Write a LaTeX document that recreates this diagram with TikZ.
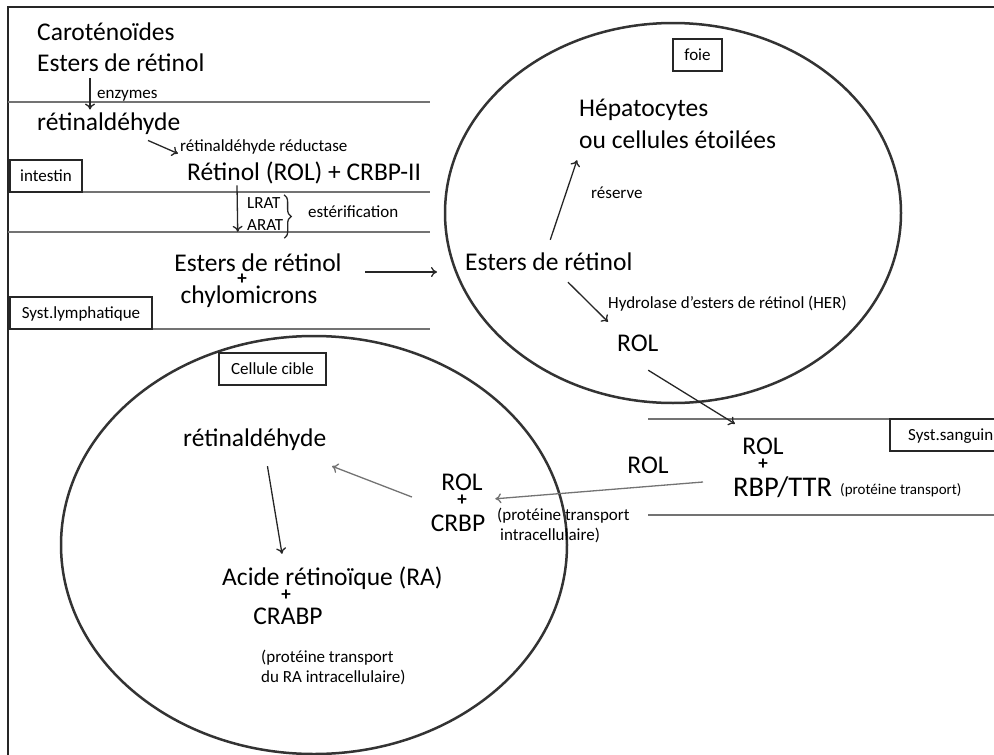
\documentclass[tikz,border=0pt]{standalone}
\usepackage{fontspec}
\setmainfont{Carlito}
\usetikzlibrary{arrows.meta,decorations.pathreplacing}

\tikzset{
  >={To[length=6pt, width=10pt]},
  bigtext/.style={font=\fontsize{25.5}{30}\selectfont, inner sep=0pt, text height=16.5pt, text depth=0pt},
  smalltext/.style={font=\fontsize{17}{20}\selectfont, inner sep=0pt, text height=11pt, text depth=0pt},
  plussign/.style={font=\bfseries\fontsize{19}{20}\selectfont, inner sep=0pt, text height=9pt, text depth=0pt},
  tagbox/.style={smalltext, draw=black!85, line width=1.5pt, minimum height=32pt},
  arr/.style={->, line width=1.3pt, black!85},
  greyarr/.style={->, line width=1.3pt, black!55},
  sep/.style={line width=1.5pt, black!55},
  organ/.style={line width=2.5pt, black!80}
}

\begin{document}
\begin{tikzpicture}[x=1pt, y=-1pt]
	\useasboundingbox (0,0) rectangle (994,755);
	\draw[line width=2.5pt, black!85] (8,755) -- (8,7) -- (994,7);

	% intestin
	\draw[sep] (8,102) -- (430,102);
	\draw[sep] (82,192) -- (430,192);
	\draw[sep] (8,232) -- (430,232);
	\draw[sep] (152,329) -- (430,329);
	\node[tagbox, minimum width=72pt](intestinBox) at (46,176){intestin};
	\node[tagbox, minimum width=142pt](lymphBox) at (81,313){Syst.lymphatique};

	\node[bigtext, anchor=west](carot) at (37,32){Caroténoïdes};
	\node[bigtext, anchor=west](estersA) at (37,63){Esters de rétinol};
	\node[smalltext, anchor=west](enzymesLbl) at (97,93){enzymes};
	\node[bigtext, anchor=west](retA) at (37,122){rétinaldéhyde};
	\node[smalltext, anchor=west](reductaseLbl) at (180,146){rétinaldéhyde réductase};
	\node[bigtext, anchor=west](rolA) at (187,172){Rétinol (ROL) + CRBP-II};
	\node[smalltext, anchor=west](lratLbl) at (247,203){LRAT};
	\node[smalltext, anchor=west](aratLbl) at (247,225){ARAT};
	\node[smalltext, anchor=west](esterifLbl) at (308,212){estérification};
	\node[bigtext](estersB) at (258,263){Esters de rétinol};
	\node[plussign](plusB) at (242,280){+};
	\node[bigtext](chylo) at (249,295){chylomicrons};

	\draw[arr] ([xshift=53pt,yshift=-7pt]estersA.south west) -- ([xshift=53pt,yshift=4pt]retA.north west);
	\draw[arr] ([xshift=111pt,yshift=-10pt]retA.south west) -- ([xshift=-9pt,yshift=10pt]rolA.north west);
	\draw[arr] ([xshift=50pt,yshift=-5pt]rolA.south west) -- ([xshift=63.5pt,yshift=22.75pt]estersB.north west);
	\draw[line width=1.3pt, black!85, decorate, decoration={brace, amplitude=7pt}] ([xshift=3.5pt,yshift=2.5pt]lratLbl.north east) -- ([xshift=1pt,yshift=-7.5pt]aratLbl.south east);

	% foie
	\draw[organ] (673,213) ellipse [x radius=228pt, y radius=190pt];
	\node[tagbox, minimum width=49pt](foieBox) at (697.5,55){foie};
	\node[bigtext, anchor=west](hepato1) at (579,108){Hépatocytes};
	\node[bigtext, anchor=west](hepato2) at (579,140){ou cellules étoilées};
	\node[smalltext, anchor=west](reserveLbl) at (591,193){réserve};
	\node[bigtext, anchor=west](estersC) at (465,262){Esters de rétinol};
	\node[smalltext, anchor=west](herLbl) at (608,303){Hydrolase d’esters de rétinol (HER)};
	\node[bigtext, anchor=west](rolC) at (617,343){ROL};

	\draw[arr] ([xshift=23.5pt,yshift=-9pt]estersB.east) -- ([xshift=-28pt,yshift=-10pt]estersC.west);
	\draw[arr] ([xshift=1.5pt,yshift=13.75pt]estersC.north) -- ([xshift=-2pt,yshift=-11.75pt]hepato2.south west);
	\draw[arr] ([xshift=103pt,yshift=-11.75pt]estersC.south west) -- ([xshift=-9pt,yshift=12.75pt]rolC.north west);

	% sang
	\draw[sep] (648,419) -- (994,419);
	\draw[sep] (648,515) -- (994,515);
	\node[tagbox, minimum width=122pt, anchor=west](sangBox) at (889,435){Syst.sanguin};
	\node[bigtext](rolD) at (763,446){ROL};
	\node[plussign](plusD) at (763,465){+};
	\node[bigtext, font=\fontsize{28.5}{32}\selectfont, text height=18.5pt, anchor=west](rbp) at (733,487){RBP/TTR};
	\node[smalltext, font=\fontsize{15}{18}\selectfont, anchor=west](protD) at (840,489){(protéine transport)};
	\node[bigtext](rolLbl) at (648,465){ROL};

	\draw[arr] ([xshift=-10.4pt,yshift=-18.75pt]rolC.south east) -- ([xshift=-7.3pt,yshift=13.75pt]rolD.north west);

	% cellule cible
	\draw[organ] (314,545) ellipse [x radius=253pt, y radius=209pt];
	\node[tagbox, minimum width=107pt](cibleBox) at (272.5,369){Cellule cible};
	\node[bigtext, anchor=west](retE) at (183,438){rétinaldéhyde};
	\node[bigtext](rolF) at (462,482){ROL};
	\node[plussign](plusF) at (462,501){+};
	\node[bigtext](crbp) at (458,523){CRBP};
	\node[smalltext, anchor=west](protF1) at (497,515){(protéine transport};
	\node[smalltext, anchor=west](protF2) at (500,535){intracellulaire)};
	\node[bigtext, anchor=west](acide) at (222,577){Acide rétinoïque (RA)};
	\node[plussign](plusE) at (286,596){+};
	\node[bigtext](crabp) at (288,616){CRABP};
	\node[smalltext, anchor=west](protE1) at (261,657){(protéine transport};
	\node[smalltext, anchor=west](protE2) at (261,677){du RA intracellulaire)};

	\draw[greyarr] ([xshift=-30pt,yshift=5pt]rbp.west) -- ([xshift=9.8pt,yshift=15.75pt]crbp.north east);
	\draw[greyarr] ([xshift=-29.3pt,yshift=-15pt]rolF.west) -- ([xshift=5.5pt,yshift=-19.75pt]retE.south east);
	\draw[arr] ([xshift=12.7pt,yshift=-19.75pt]retE.south) -- ([xshift=60pt,yshift=14.75pt]acide.north west);

\end{tikzpicture}
\end{document}
